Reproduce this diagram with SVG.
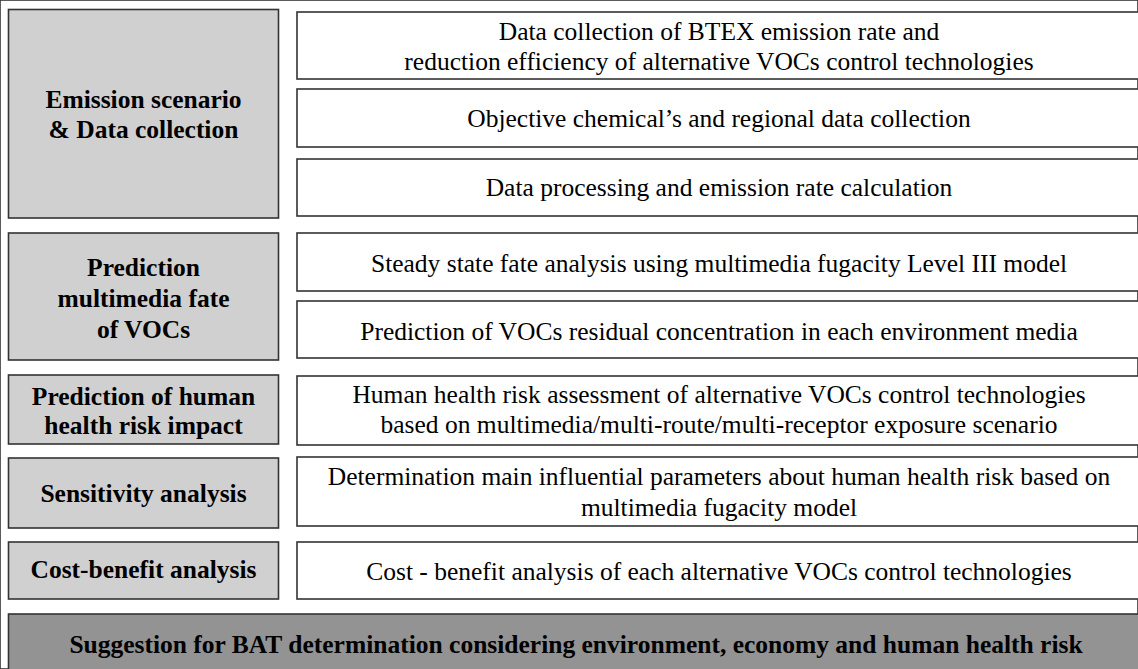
<svg xmlns="http://www.w3.org/2000/svg" width="1138" height="669" viewBox="0 0 1138 669">
<style>
rect{stroke:#333;stroke-width:1.6}
.l{fill:#d0d0d0}
.r{fill:#fff}
.b{fill:#939393}
text{font-family:"Liberation Serif","Times New Roman",serif;font-size:25.5px;fill:#000;text-anchor:middle}
.lt{font-weight:bold}
.rt{}
</style>
<rect x="0" y="0" width="1138" height="669" fill="#fff" stroke="none"/>
<g id="left1"><rect class="l" x="8.5" y="9.5" width="270" height="208.5"/>
<text class="lt" x="143.5" y="108">Emission scenario</text><text class="lt" x="143.5" y="138">&amp; Data collection</text></g>
<g id="right1a"><rect class="r" x="297" y="12" width="846" height="67"/>
<text x="719" y="40">Data collection of BTEX emission rate and</text><text x="719" y="70">reduction efficiency of alternative VOCs control technologies</text></g>
<g id="right1b"><rect class="r" x="297" y="89" width="846" height="58"/>
<text x="719" y="127">Objective chemical’s and regional data collection</text></g>
<g id="right1c"><rect class="r" x="297" y="159" width="846" height="57"/>
<text x="719" y="196">Data processing and emission rate calculation</text></g>
<g id="left2"><rect class="l" x="8.5" y="233" width="270" height="127"/>
<text class="lt" x="143.5" y="276">Prediction</text><text class="lt" x="143.5" y="307">multimedia fate</text><text class="lt" x="143.5" y="338">of VOCs</text></g>
<g id="right2a"><rect class="r" x="297" y="233" width="846" height="58"/>
<text x="719" y="272">Steady state fate analysis using multimedia fugacity Level III model</text></g>
<g id="right2b"><rect class="r" x="297" y="301" width="846" height="57"/>
<text x="719" y="340">Prediction of VOCs residual concentration in each environment media</text></g>
<g id="left3"><rect class="l" x="8.5" y="375" width="270" height="69"/>
<text class="lt" x="143.5" y="405">Prediction of human</text><text class="lt" x="143.5" y="434">health risk impact</text></g>
<g id="right3"><rect class="r" x="297" y="376" width="846" height="69"/>
<text x="719" y="403">Human health risk assessment of alternative VOCs control technologies</text><text x="719" y="433">based on multimedia/multi-route/multi-receptor exposure scenario</text></g>
<g id="left4"><rect class="l" x="8.5" y="458" width="270" height="70"/>
<text class="lt" x="143.5" y="502">Sensitivity analysis</text></g>
<g id="right4"><rect class="r" x="297" y="457" width="846" height="69"/>
<text x="719" y="485">Determination main influential parameters about human health risk based on</text><text x="719" y="516">multimedia fugacity model</text></g>
<g id="left5"><rect class="l" x="8.5" y="542" width="270" height="57"/>
<text class="lt" x="143.5" y="578">Cost-benefit analysis</text></g>
<g id="right5"><rect class="r" x="297" y="542" width="846" height="57"/>
<text x="719" y="580">Cost - benefit analysis of each alternative VOCs control technologies</text></g>
<g id="bottom"><rect class="b" x="8.5" y="614" width="1136" height="62"/>
<text class="lt" x="576" y="653">Suggestion for BAT determination considering environment, economy and human health risk</text></g>
<g id="connectors"></g>
</svg>
